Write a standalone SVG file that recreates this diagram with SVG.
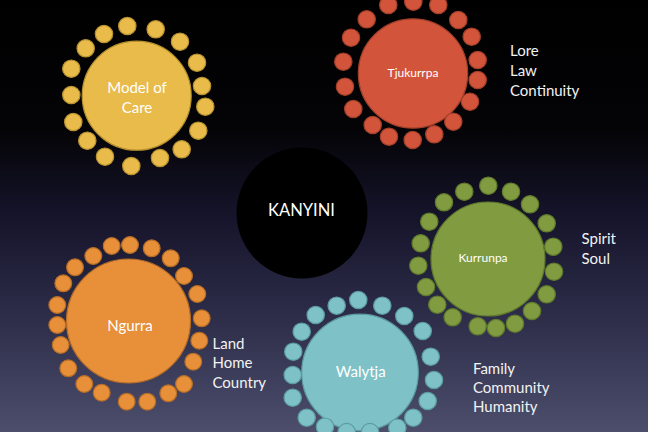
<svg xmlns="http://www.w3.org/2000/svg" width="648" height="432" viewBox="0 0 648 432">
<defs>
<linearGradient id="bg" x1="0" y1="0" x2="0" y2="1">
<stop offset="0" stop-color="#000000"/>
<stop offset="0.3" stop-color="#040407"/>
<stop offset="0.5" stop-color="#16142a"/>
<stop offset="0.75" stop-color="#2f2f4c"/>
<stop offset="1" stop-color="#4c4e6b"/>
</linearGradient>
</defs>
<style>
text{font-family:Lato,"Liberation Sans",sans-serif;fill:#ffffff}
.lbl{font-size:15px;text-anchor:middle;dominant-baseline:central}
.sm{font-size:12px;text-anchor:middle;dominant-baseline:central}
.side{font-size:15px;dominant-baseline:central;fill:#f2f2f2}
.y circle{fill:#e8bb4b;stroke:#b8922f;stroke-width:1.2}
.r circle{fill:#d2553b;stroke:#a23f2a;stroke-width:1.2}
.g circle{fill:#809b40;stroke:#5f7a2c;stroke-width:1.2}
.o circle{fill:#e88f39;stroke:#b56d27;stroke-width:1.2}
.t circle{fill:#7ec2c7;stroke:#5c9ca0;stroke-width:1.2}
</style>
<rect width="648" height="432" fill="url(#bg)"/>
<g id="connectors"/>

<g id="model-of-care" class="y">
<circle cx="136.7" cy="95.7" r="54.5"/>
<g>
<circle cx="127.3" cy="26" r="8.7"/><circle cx="155.7" cy="29.3" r="8.7"/><circle cx="104" cy="34" r="8.7"/>
<circle cx="180" cy="41.7" r="8.7"/><circle cx="85.7" cy="48.3" r="8.7"/><circle cx="197" cy="62.7" r="8.7"/>
<circle cx="71.3" cy="68.7" r="8.7"/><circle cx="202" cy="86" r="8.7"/><circle cx="71.3" cy="95" r="8.7"/>
<circle cx="205.3" cy="106.7" r="8.7"/><circle cx="73.3" cy="122" r="8.7"/><circle cx="198.3" cy="130.7" r="8.7"/>
<circle cx="87.3" cy="140.7" r="8.7"/><circle cx="181.7" cy="149.3" r="8.7"/><circle cx="105" cy="156.7" r="8.7"/>
<circle cx="160" cy="158" r="8.7"/><circle cx="131.3" cy="166" r="8.7"/>
</g>
<text class="lbl" x="137" y="86.5">Model of</text>
<text class="lbl" x="137" y="106.5">Care</text>
</g>

<g id="tjukurrpa" class="r">
<circle cx="413" cy="73.5" r="54.7"/>
<g>
<circle cx="388.3" cy="5" r="8.7"/><circle cx="413.3" cy="1.7" r="8.7"/><circle cx="438.3" cy="5" r="8.7"/>
<circle cx="366.7" cy="19.3" r="8.7"/><circle cx="458.3" cy="20" r="8.7"/><circle cx="351" cy="37.7" r="8.7"/>
<circle cx="471.7" cy="36.7" r="8.7"/><circle cx="343.3" cy="61.7" r="8.7"/><circle cx="477.7" cy="60" r="8.7"/>
<circle cx="345" cy="86.7" r="8.7"/><circle cx="477.7" cy="80" r="8.7"/><circle cx="353.3" cy="109" r="8.7"/>
<circle cx="470" cy="101.7" r="8.7"/><circle cx="372.7" cy="125" r="8.7"/><circle cx="453.3" cy="121.7" r="8.7"/>
<circle cx="389" cy="136.7" r="8.7"/><circle cx="412.7" cy="140" r="8.7"/><circle cx="434.3" cy="134.3" r="8.7"/>
</g>
<text class="sm" x="413" y="72.5">Tjukurrpa</text>
<text class="side" x="510" y="50">Lore</text>
<text class="side" x="510" y="70">Law</text>
<text class="side" x="510" y="90">Continuity</text>
</g>

<g id="kanyini">
<circle cx="302" cy="213" r="65.5" fill="#000000"/>
<text x="301.5" y="210" font-size="16.5" text-anchor="middle" dominant-baseline="central">KANYINI</text>
</g>

<g id="kurrunpa" class="g">
<circle cx="488" cy="259" r="57"/>
<g>
<circle cx="488.3" cy="185.7" r="8.7"/><circle cx="464.3" cy="191.7" r="8.7"/><circle cx="511" cy="191.7" r="8.7"/>
<circle cx="444" cy="202.3" r="8.7"/><circle cx="530" cy="204.3" r="8.7"/><circle cx="429.3" cy="221.7" r="8.7"/>
<circle cx="546.7" cy="223.3" r="8.7"/><circle cx="420.7" cy="243.3" r="8.7"/><circle cx="553.3" cy="246.7" r="8.7"/>
<circle cx="418.3" cy="265.7" r="8.7"/><circle cx="554" cy="271.7" r="8.7"/><circle cx="426" cy="287" r="8.7"/>
<circle cx="546.7" cy="294.3" r="8.7"/><circle cx="437.3" cy="304.7" r="8.7"/><circle cx="532" cy="311" r="8.7"/>
<circle cx="452.7" cy="317.3" r="8.7"/><circle cx="477.7" cy="326.3" r="8.7"/><circle cx="496" cy="328" r="8.7"/>
<circle cx="515" cy="323.7" r="8.7"/>
</g>
<text class="sm" x="483" y="257.5">Kurrunpa</text>
<text class="side" x="581.5" y="237.5">Spirit</text>
<text class="side" x="581.5" y="257.5">Soul</text>
</g>

<g id="ngurra" class="o">
<circle cx="128.5" cy="321" r="62"/>
<g>
<circle cx="111.7" cy="246" r="8.4"/><circle cx="130" cy="245" r="8.4"/><circle cx="151.7" cy="248.3" r="8.4"/>
<circle cx="93.3" cy="256" r="8.4"/><circle cx="170.7" cy="258.3" r="8.4"/><circle cx="75" cy="267.3" r="8.4"/>
<circle cx="184" cy="276" r="8.4"/><circle cx="63.3" cy="283.3" r="8.4"/><circle cx="197.3" cy="294" r="8.4"/>
<circle cx="57.3" cy="305" r="8.4"/><circle cx="201.7" cy="318.3" r="8.4"/><circle cx="57.3" cy="325" r="8.4"/>
<circle cx="199.3" cy="340.7" r="8.4"/><circle cx="60.7" cy="345" r="8.4"/><circle cx="193.3" cy="361.7" r="8.4"/>
<circle cx="68.3" cy="368.3" r="8.4"/><circle cx="184" cy="384" r="8.4"/><circle cx="84.3" cy="384" r="8.4"/>
<circle cx="101.7" cy="392.7" r="8.4"/><circle cx="126.7" cy="401.7" r="8.4"/><circle cx="147.3" cy="401.7" r="8.4"/>
<circle cx="168.3" cy="393.3" r="8.4"/>
</g>
<text class="lbl" x="130" y="324.5">Ngurra</text>
<text class="side" x="212.5" y="342.5">Land</text>
<text class="side" x="212.5" y="362">Home</text>
<text class="side" x="212.5" y="381.5">Country</text>
</g>

<g id="walytja" class="t">
<circle cx="360" cy="372.5" r="58.3"/>
<g>
<circle cx="358.3" cy="300" r="8.7"/><circle cx="336.7" cy="305.7" r="8.7"/><circle cx="382.3" cy="305.7" r="8.7"/>
<circle cx="315.7" cy="315" r="8.7"/><circle cx="404.3" cy="316" r="8.7"/><circle cx="301.7" cy="331.7" r="8.7"/>
<circle cx="422.7" cy="331" r="8.7"/><circle cx="293.3" cy="351.7" r="8.7"/><circle cx="430.7" cy="356.7" r="8.7"/>
<circle cx="292.7" cy="375" r="8.7"/><circle cx="434" cy="380" r="8.7"/><circle cx="292.7" cy="397.7" r="8.7"/>
<circle cx="427.7" cy="401" r="8.7"/><circle cx="306.7" cy="417.7" r="8.7"/><circle cx="413.3" cy="417.7" r="8.7"/>
<circle cx="325" cy="426.7" r="8.7"/><circle cx="397.3" cy="427.7" r="8.7"/><circle cx="346.7" cy="432" r="8.7"/>
<circle cx="370" cy="432" r="8.7"/>
</g>
<text class="lbl" x="360.7" y="371">Walytja</text>
<text class="side" x="473" y="367.5">Family</text>
<text class="side" x="473" y="386.5">Community</text>
<text class="side" x="473" y="405.5">Humanity</text>
</g>
</svg>
